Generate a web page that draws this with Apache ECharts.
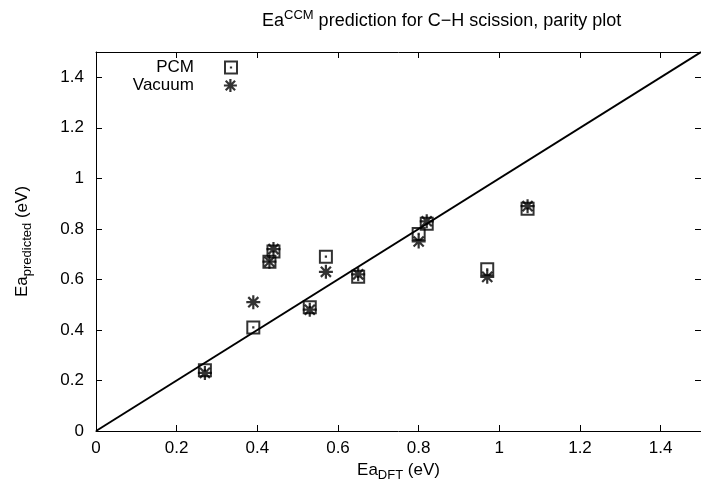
<!DOCTYPE html>
<html><head><meta charset="utf-8">
<script src="https://cdn.jsdelivr.net/npm/echarts@6/dist/echarts.min.js"></script>
<style>html,body{margin:0;padding:0;background:#fff}#c{width:701px;height:487px}</style>
</head><body><div id="c"></div>
<script>
// Data
const eaDFT  = [0.27, 0.39, 0.43, 0.44, 0.53, 0.57, 0.65, 0.80, 0.82, 0.97, 1.07];
const pcm    = [0.24, 0.41, 0.67, 0.71, 0.49, 0.69, 0.61, 0.78, 0.82, 0.64, 0.88];
const vacuum = [0.23, 0.51, 0.67, 0.72, 0.48, 0.63, 0.62, 0.75, 0.83, 0.61, 0.89];
const parityLine = [[0, 0], [1.5, 1.5]];
const seriesNames = ['PCM', 'Vacuum'];
const axisMin = 0, axisMax = 1.5, axisStep = 0.2;

const FONT = '"Liberation Sans", Arial, Helvetica, sans-serif';
const FS = 17;
const squarePath = 'path://M0,0 H10 V10 H0 Z M4.9,4.9 H5.1 V5.1 H4.9 Z';
const starPath = 'path://M5,0 V10 M0,5 H10 M1.4,1.4 L8.6,8.6 M1.4,8.6 L8.6,1.4';

const pcmData = eaDFT.map((x, i) => [x, pcm[i]]);
const vacData = eaDFT.map((x, i) => [x, vacuum[i]]);

const symStyle = { color: 'rgba(0,0,0,0)', borderColor: '#000', borderWidth: 2 };
const starStyle = { color: 'rgba(0,0,0,0)', borderColor: '#000', borderWidth: 2.2 };

function baseAxis(extra) {
  return Object.assign({
    type: 'value', min: axisMin, max: axisMax, interval: axisStep,
    axisLine: { show: true, onZero: false, lineStyle: { color: '#000', width: 1 } },
    axisTick: { show: true, inside: true, length: 6, lineStyle: { color: '#000', width: 1 } },
    splitLine: { show: false },
    axisLabel: { show: false }
  }, extra);
}

const chart = echarts.init(document.getElementById('c'), null, { renderer: 'canvas' });
chart.setOption({
  animation: false,
  backgroundColor: '#fff',
  textStyle: { fontFamily: FONT, color: '#000' },
  title: {
    text: 'Ea{sup|CCM} prediction for C\u2212H scission, parity plot',
    left: 257, top: 4,
    textStyle: {
      fontFamily: FONT, fontSize: 18, fontWeight: 'normal', color: '#000',
      rich: { sup: { fontFamily: FONT, fontSize: 13, color: '#000', padding: [0, 0, 11, 0] } }
    }
  },
  grid: { left: 96, top: 52, right: -3, bottom: 56, containLabel: false },
  legend: [
    {
      data: [{ name: seriesNames[0], icon: squarePath }],
      right: 701 - 238, top: 59, align: 'right', orient: 'vertical',
      itemWidth: 12, itemHeight: 12, padding: 0,
      itemStyle: symStyle,
      textStyle: { fontFamily: FONT, fontSize: FS, color: '#000', padding: [0, 26, 0, 0] }
    },
    {
      data: [{ name: seriesNames[1], icon: starPath }],
      right: 701 - 238, top: 77, align: 'right', orient: 'vertical',
      itemWidth: 13, itemHeight: 13, padding: 0,
      itemStyle: starStyle,
      textStyle: { fontFamily: FONT, fontSize: FS, color: '#000', padding: [0, 25, 0, 0] }
    }
  ],
  xAxis: [
    baseAxis({
      position: 'bottom',
      axisLabel: { show: true, margin: 9, fontFamily: FONT, fontSize: FS, color: '#000', showMaxLabel: false },
      name: 'Ea{sub|DFT} (eV)', nameLocation: 'middle', nameGap: 28,
      nameTextStyle: {
        fontFamily: FONT, fontSize: FS, color: '#000',
        rich: { sub: { fontFamily: FONT, fontSize: 13, color: '#000', padding: [10, 0, 0, 0] } }
      }
    }),
    baseAxis({ position: 'top' })
  ],
  yAxis: [
    baseAxis({
      position: 'left',
      axisLabel: { show: true, margin: 12, fontFamily: FONT, fontSize: FS, color: '#000', showMaxLabel: false },
      name: 'Ea{sub|predicted} (eV)', nameLocation: 'middle', nameGap: 62, nameRotate: 90,
      nameTextStyle: {
        fontFamily: FONT, fontSize: FS, color: '#000',
        rich: { sub: { fontFamily: FONT, fontSize: 13, color: '#000', padding: [10, 0, 0, 0] } }
      }
    }),
    baseAxis({ position: 'right' })
  ],
  series: [
    {
      name: 'parity', type: 'line', data: parityLine, xAxisIndex: 0, yAxisIndex: 0,
      showSymbol: false, symbol: 'none', clip: true, z: 1,
      lineStyle: { color: '#000', width: 2 }
    },
    {
      name: seriesNames[0], type: 'scatter', data: pcmData, symbol: squarePath, symbolSize: 12,
      itemStyle: symStyle, z: 3
    },
    {
      name: seriesNames[1], type: 'scatter', data: vacData, symbol: starPath, symbolSize: 14,
      itemStyle: starStyle, z: 4
    }
  ]
});
</script></body></html>
